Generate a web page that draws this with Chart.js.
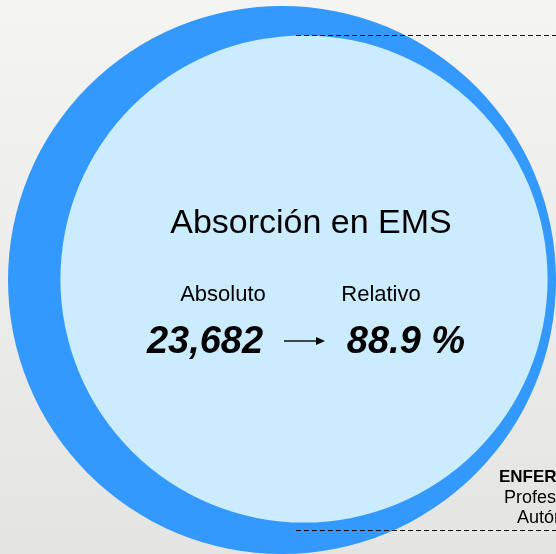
<!DOCTYPE html>
<html>
<head>
<meta charset="utf-8">
<script src="https://cdn.jsdelivr.net/npm/chart.js@4.4.1/dist/chart.umd.min.js"></script>
<style>
  html, body { margin: 0; padding: 0; background: #eeeeed; }
  #wrap { width: 556px; height: 554px; }
</style>
</head>
<body>
<div id="wrap"><canvas id="absChart" width="556" height="554"></canvas></div>
<script>
// datos del gráfico
const circleLabels = ['Total', 'Absorción en EMS'];
const circleShare = [100, 88.9]; // % relativo al total
const absoluteLabel = 'Absoluto';
const relativeLabel = 'Relativo';
const absoluteValue = 23682;
const relativeValue = 88.9;
const sideLabels = ['ENFERMERÍA', 'Profesional', 'Autónoma'];

// colores de los círculos
const circleColors = ['#3399ff', '#cbebff'];

// layout (pixeles del lienzo)
const outerRadius = 274;
const circleCenterX = [282, 304];
const circleCenterY = [280, 279];

const bubbleData = circleShare.map((s, i) => ({
    x: circleCenterX[i],
    y: circleCenterY[i],
    r: outerRadius * s / 100
}));

// fondo con degradado
const bgPlugin = {
    id: 'bgGradient',
    beforeDraw(chart) {
        const ctx = chart.ctx;
        const g = ctx.createLinearGradient(0, 0, 0, chart.height);
        g.addColorStop(0, '#f4f4f3');
        g.addColorStop(1, '#e4e4e2');
        ctx.save();
        ctx.fillStyle = g;
        ctx.fillRect(0, 0, chart.width, chart.height);
        ctx.restore();
    }
};

// textos y lineas punteadas
const labelPlugin = {
    id: 'centerLabels',
    afterDraw(chart) {
        const ctx = chart.ctx;
        ctx.save();

        // lineas punteadas
        ctx.strokeStyle = '#111';
        ctx.lineWidth = 1;
        ctx.setLineDash([5, 3]);
        [35.5, 530.5].forEach(y => {
            ctx.beginPath();
            ctx.moveTo(296, y);
            ctx.lineTo(556, y);
            ctx.stroke();
        });
        ctx.setLineDash([]);

        ctx.fillStyle = '#000';
        ctx.textAlign = 'center';
        ctx.textBaseline = 'alphabetic';

        ctx.font = '34px "Liberation Sans", Arial, sans-serif';
        ctx.fillText(circleLabels[1], 311, 233);

        ctx.font = '22px "Liberation Sans", Arial, sans-serif';
        ctx.fillText(absoluteLabel, 223, 301);
        ctx.fillText(relativeLabel, 381, 301);

        ctx.font = 'italic bold 38px "Liberation Sans", Arial, sans-serif';
        ctx.fillText(absoluteValue.toLocaleString('en-US'), 205, 353);
        ctx.fillText(relativeValue.toFixed(1) + ' %', 406, 353);

        // flecha
        ctx.lineWidth = 1.5;
        ctx.beginPath();
        ctx.moveTo(284, 341);
        ctx.lineTo(318, 341);
        ctx.stroke();
        ctx.beginPath();
        ctx.moveTo(325, 341);
        ctx.lineTo(316, 337);
        ctx.lineTo(316, 345);
        ctx.closePath();
        ctx.fill();

        // etiquetas laterales (cortadas por el borde)
        ctx.textAlign = 'left';
        ctx.font = 'bold 17px "Liberation Sans", Arial, sans-serif';
        ctx.fillText(sideLabels[0], 499, 482);
        ctx.font = '18px "Liberation Sans", Arial, sans-serif';
        ctx.fillText(sideLabels[1], 504, 503);
        ctx.fillText(sideLabels[2], 517, 523);

        ctx.restore();
    }
};

new Chart(document.getElementById('absChart').getContext('2d'), {
    type: 'bubble',
    data: {
        labels: circleLabels,
        datasets: [{
            data: bubbleData,
            backgroundColor: circleColors,
            borderWidth: 0,
            hoverBorderWidth: 0,
            clip: false
        }]
    },
    options: {
        responsive: false,
        animation: false,
        events: [],
        layout: { padding: 0, autoPadding: false },
        plugins: {
            legend: { display: false },
            tooltip: { enabled: false }
        },
        scales: {
            x: { type: 'linear', min: 0, max: 556, display: false },
            y: { type: 'linear', min: 0, max: 554, reverse: true, display: false }
        }
    },
    plugins: [bgPlugin, labelPlugin]
});
</script>
</body>
</html>
